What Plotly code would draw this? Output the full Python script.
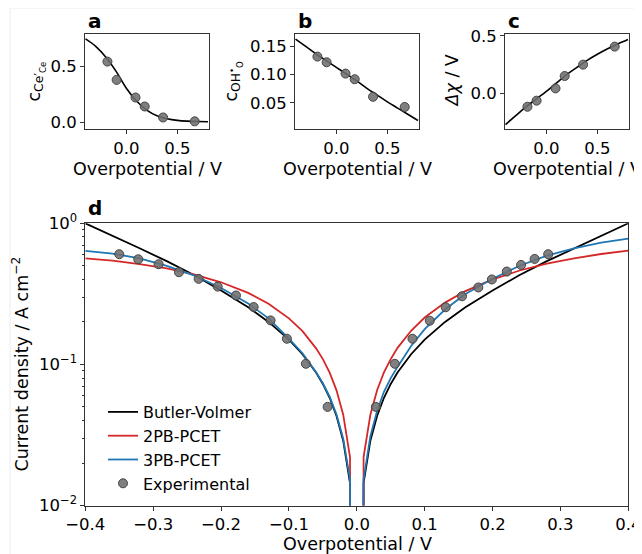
import plotly.graph_objects as go

# ---------------- data: panels a-c ----------------
eta_exp = [-0.185, -0.095, 0.09, 0.18, 0.36, 0.67]
c_ce_exp = [0.545, 0.38, 0.221, 0.14, 0.041, 0.006]
c_oh_exp = [0.132, 0.122, 0.102, 0.092, 0.061, 0.043]
dchi_exp = [-0.117, -0.064, 0.043, 0.151, 0.25, 0.407]

eta_fit = [-0.4, -0.3, -0.2, -0.1, 0.0, 0.1, 0.2, 0.3, 0.4, 0.5, 0.6, 0.7, 0.8]
c_ce_fit = [0.75, 0.683, 0.585, 0.457, 0.305, 0.19, 0.108, 0.057, 0.030, 0.015, 0.008, 0.005, 0.003]
c_oh_fit = [0.163, 0.150, 0.137, 0.125, 0.113, 0.101, 0.089, 0.076, 0.064, 0.052, 0.041, 0.030, 0.019]
dchi_fit = [-0.272, -0.195, -0.119, -0.05, 0.017, 0.09, 0.163, 0.226, 0.287, 0.34, 0.388, 0.43, 0.469]

# ---------------- data: panel d ----------------
eta_model = [-0.4, -0.36, -0.32, -0.28, -0.24, -0.2, -0.16, -0.13, -0.1, -0.08, -0.06, -0.05,
             -0.04, -0.03, -0.02, -0.01, 0.0, 0.01, 0.02, 0.03, 0.04, 0.05, 0.06, 0.08, 0.1,
             0.13, 0.16, 0.2, 0.24, 0.28, 0.32, 0.36, 0.4]
j_bv = [1.0, 0.818, 0.665, 0.539, 0.430, 0.334, 0.254, 0.200, 0.150, 0.118, 0.0876, 0.0727,
        0.058, 0.0433, 0.0288, 0.0144, 0.0, 0.0144, 0.0288, 0.0433, 0.058, 0.0727, 0.0876, 0.118, 0.150,
        0.200, 0.254, 0.334, 0.430, 0.539, 0.665, 0.818, 1.0]
j_2pb = [0.565, 0.543, 0.514, 0.479, 0.435, 0.382, 0.321, 0.269, 0.212, 0.172, 0.130, 0.109,
         0.0875, 0.0658, 0.044, 0.022, 0.0, 0.022, 0.044, 0.0658, 0.0877, 0.109, 0.131, 0.173, 0.215,
         0.274, 0.331, 0.40, 0.463, 0.518, 0.565, 0.606, 0.64]
j_3pb = [0.637, 0.61, 0.565, 0.50, 0.428, 0.348, 0.270, 0.212, 0.152, 0.12, 0.088, 0.0735,
         0.059, 0.0443, 0.0297, 0.0153, 0.0, 0.0153, 0.031, 0.047, 0.064, 0.080, 0.096, 0.135, 0.178,
         0.245, 0.315, 0.405, 0.50, 0.59, 0.665, 0.73, 0.78]

eta_exp_d = [-0.350, -0.322, -0.292, -0.262, -0.233, -0.205, -0.178, -0.152, -0.127, -0.103,
             -0.075, -0.043, 0.028, 0.056, 0.082, 0.1075, 0.131, 0.155, 0.179, 0.199, 0.221,
             0.242, 0.262, 0.282]
j_exp_d = [0.604, 0.556, 0.513, 0.450, 0.404, 0.356, 0.308, 0.255, 0.205, 0.152, 0.101, 0.050,
           0.050, 0.101, 0.152, 0.204, 0.254, 0.304, 0.351, 0.40, 0.455, 0.507, 0.559, 0.604]

x_ticks_small = [0.0, 0.5]
d_xticks = [-0.4, -0.3, -0.2, -0.1, 0.0, 0.1, 0.2, 0.3, 0.4]
d_yticks = [0.01, 0.1, 1]

# ---------------- styling ----------------
# the page body keeps an 8 px margin, so the figure is 8 px smaller and offset
OFF = 8
W, H = 642 - OFF, 554 - OFF
FONT = "DejaVu Sans"
AXC = "#333333"
RED = "#d62728"
BLUE = "#1f77b4"
mk = dict(size=9, color="rgba(110,110,110,0.88)", line=dict(color="#454545", width=1))


def clip(v):
    # log axis: non-positive values are clipped to a tiny value (vertical drop)
    return [x if x > 0 else 1e-30 for x in v]


def px_x(p):
    return (p - OFF) / W


def px_y(p):
    return 1 - (p - OFF) / H


fig = go.Figure()

# panel a
fig.add_trace(go.Scatter(x=eta_fit, y=c_ce_fit, mode="lines", line=dict(color="black", width=1.6, shape="spline"),
                         xaxis="x", yaxis="y", showlegend=False))
fig.add_trace(go.Scatter(x=eta_exp, y=c_ce_exp, mode="markers", marker=mk, xaxis="x", yaxis="y", showlegend=False))
# panel b
fig.add_trace(go.Scatter(x=eta_fit, y=c_oh_fit, mode="lines", line=dict(color="black", width=1.6, shape="spline"),
                         xaxis="x2", yaxis="y2", showlegend=False))
fig.add_trace(go.Scatter(x=eta_exp, y=c_oh_exp, mode="markers", marker=mk, xaxis="x2", yaxis="y2", showlegend=False))
# panel c
fig.add_trace(go.Scatter(x=eta_fit, y=dchi_fit, mode="lines", line=dict(color="black", width=1.6, shape="spline"),
                         xaxis="x3", yaxis="y3", showlegend=False))
fig.add_trace(go.Scatter(x=eta_exp, y=dchi_exp, mode="markers", marker=mk, xaxis="x3", yaxis="y3", showlegend=False))
# panel d
fig.add_trace(go.Scatter(x=eta_model, y=clip(j_bv), mode="lines", name="Butler-Volmer",
                         line=dict(color="black", width=1.8), xaxis="x4", yaxis="y4"))
fig.add_trace(go.Scatter(x=eta_model, y=clip(j_2pb), mode="lines", name="2PB-PCET",
                         line=dict(color=RED, width=1.8), xaxis="x4", yaxis="y4"))
fig.add_trace(go.Scatter(x=eta_model, y=clip(j_3pb), mode="lines", name="3PB-PCET",
                         line=dict(color=BLUE, width=1.8), xaxis="x4", yaxis="y4"))
fig.add_trace(go.Scatter(x=eta_exp_d, y=j_exp_d, mode="markers", name="Experimental", marker=mk,
                         xaxis="x4", yaxis="y4"))

common = dict(showline=True, linecolor=AXC, linewidth=1, mirror=True, ticks="outside", ticklen=4,
              tickwidth=1, tickcolor=AXC, showgrid=False, zeroline=False, automargin=False,
              tickfont=dict(family=FONT, size=16.5, color="black"))

small_x = dict(range=[-0.405, 0.81], tickvals=x_ticks_small, ticktext=["0.0", "0.5"], **common)

fig.update_layout(
    width=W, height=H, margin=dict(l=0, r=0, t=0, b=0, autoexpand=False),
    paper_bgcolor="white", plot_bgcolor="white",
    font=dict(family=FONT, size=16.5, color="black"),
    xaxis=dict(domain=[px_x(85), px_x(209)], anchor="y", **small_x),
    yaxis=dict(domain=[px_y(129), px_y(34)], anchor="x", range=[-0.063, 0.794],
               tickvals=[0.0, 0.5], ticktext=["0.0", "0.5"], **common),
    xaxis2=dict(domain=[px_x(295), px_x(419)], anchor="y2", **small_x),
    yaxis2=dict(domain=[px_y(129), px_y(34)], anchor="x2", range=[0.004, 0.172],
                tickvals=[0.05, 0.10, 0.15], ticktext=["0.05", "0.10", "0.15"], **common),
    xaxis3=dict(domain=[px_x(505), px_x(629)], anchor="y3", **small_x),
    yaxis3=dict(domain=[px_y(129), px_y(34)], anchor="x3", range=[-0.311, 0.517],
                tickvals=[0.0, 0.5], ticktext=["0.0", "0.5"], **common),
    xaxis4=dict(domain=[px_x(85.3), px_x(628.3)], anchor="y4", range=[-0.4, 0.4],
                tickvals=d_xticks,
                ticktext=[("−" if v < 0 else "") + f"{abs(v):.1f}" for v in d_xticks], **common),
    yaxis4=dict(domain=[px_y(505.5), px_y(223.3)], anchor="x4", type="log", range=[-2, 0],
                tickvals=d_yticks, ticktext=["10<sup>−2</sup>", "10<sup>−1</sup>", "10<sup>0</sup>"],
                minor=dict(ticks="outside", ticklen=2, tickcolor=AXC, showgrid=False,
                           tickvals=[k * 0.01 for k in range(2, 10)] + [k * 0.1 for k in range(2, 10)]),
                **common),
    legend=dict(x=px_x(103), y=px_y(395), xanchor="left", yanchor="top", bgcolor="rgba(0,0,0,0)",
                font=dict(family=FONT, size=16, color="black"), tracegroupgap=0),
    showlegend=True,
)

ann = []
# panel letters
for letter, xp, yp in [("a", 86, 21), ("b", 296, 21), ("c", 506, 21), ("d", 86, 208)]:
    ann.append(dict(text=f"<b>{letter}</b>", x=px_x(xp), y=px_y(yp), xref="paper", yref="paper",
                    xanchor="left", yanchor="middle", showarrow=False,
                    font=dict(family=FONT, size=20, color="black")))
# x titles
for xc, yc in [(147, 169), (357, 169), (567, 169), (357, 544)]:
    ann.append(dict(text="Overpotential / V", x=px_x(xc), y=px_y(yc), xref="paper", yref="paper",
                    xanchor="center", yanchor="middle", showarrow=False,
                    font=dict(family=FONT, size=17.5, color="black")))
# y titles
for txt, xc, yc in [("c<sub>Ce′<sub>Ce</sub></sub>", 36, 81.5),
                    ("c<sub>OH<sup>•</sup><sub>O</sub></sub>", 233, 81.5),
                    ("<i>Δχ</i> / V", 452, 81.5),
                    ("Current density / A cm<sup>−2</sup>", 20, 364.5)]:
    ann.append(dict(text=txt, x=px_x(xc), y=px_y(yc), xref="paper", yref="paper",
                    xanchor="center", yanchor="middle", showarrow=False, textangle=-90,
                    font=dict(family=FONT, size=17.5, color="black")))
fig.update_layout(annotations=ann)

# faint frame of the original figure
fig.add_shape(type="line", xref="paper", yref="paper", x0=px_x(10), x1=1, y0=px_y(8), y1=px_y(8),
              line=dict(color="#ececec", width=1))
fig.add_shape(type="line", xref="paper", yref="paper", x0=px_x(10), x1=px_x(10), y0=0, y1=px_y(8),
              line=dict(color="#ececec", width=1))

fig.write_html("out.html")
